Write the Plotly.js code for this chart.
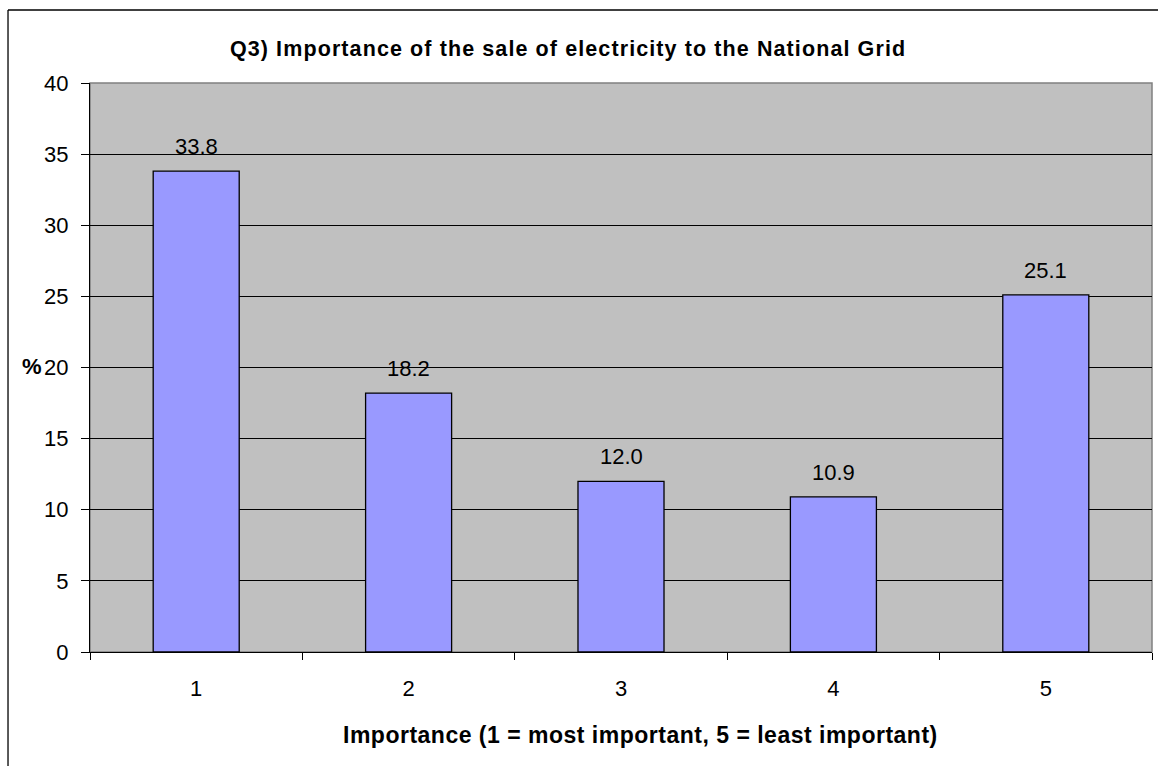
<!DOCTYPE html>
<html>
<head>
<meta charset="utf-8">
<script src="https://cdn.plot.ly/plotly-3.0.1.min.js"></script>
<style>
html,body{margin:0;padding:0;background:#fff;}
#chart{width:1158px;height:766px;}
.annotation[data-index="0"] text{letter-spacing:1.1px;}
.annotation[data-index="1"] text{letter-spacing:0.5px;}
</style>
</head>
<body>
<div id="chart"></div>
<script>
const categories = ["1", "2", "3", "4", "5"];
const percentValues = [33.8, 18.2, 12.0, 10.9, 25.1];
const yTickValues = [0, 5, 10, 15, 20, 25, 30, 35, 40];
const chartTitle = "Q3) Importance of the sale of electricity to the National Grid";
const xTitle = "Importance (1 = most important, 5 = least important)";
const yTitle = "%";

const FONT = "Arial, 'Liberation Sans', sans-serif";

const trace = {
  type: "bar",
  x: categories,
  y: percentValues,
  width: 0.405,
  marker: {color: "#9999FF", line: {color: "#000000", width: 1.3}},
  hoverinfo: "none"
};

const labelAnnotations = categories.map((c, i) => ({
  x: i, y: percentValues[i], xref: "x", yref: "y",
  text: percentValues[i].toFixed(1),
  showarrow: false, yanchor: "bottom", yshift: 10,
  font: {family: FONT, size: 22, color: "#000"}
}));

const layout = {
  width: 1158, height: 766,
  margin: {l: 90, r: 6, t: 83, b: 114},
  paper_bgcolor: "#ffffff",
  plot_bgcolor: "#C0C0C0",
  showlegend: false,
  xaxis: {
    type: "category",
    range: [-0.5, categories.length - 0.5],
    tickson: "boundaries",
    ticks: "outside", ticklen: 7, tickcolor: "#000", tickwidth: 1,
    showgrid: false, zeroline: false,
    showline: true, linecolor: "#000", linewidth: 1,
    tickfont: {family: FONT, size: 22, color: "#000"},
    ticklabelstandoff: 17,
    fixedrange: true
  },
  yaxis: {
    range: [0, 40],
    tickvals: yTickValues,
    ticktext: yTickValues.map(String),
    ticks: "outside", ticklen: 8, tickcolor: "#000", tickwidth: 1,
    showgrid: true, gridcolor: "#000", gridwidth: 1,
    zeroline: false,
    showline: true, linecolor: "#000", linewidth: 1,
    tickfont: {family: FONT, size: 22, color: "#000"},
    ticklabelstandoff: 8,
    fixedrange: true
  },
  shapes: [
    {type: "rect", xref: "paper", yref: "paper", x0: 0, x1: 1, y0: 0, y1: 1,
     line: {color: "#808080", width: 1.5}, layer: "below"},
    {type: "line", xref: "paper", yref: "paper", x0: -0.0772, x1: -0.0772, y0: -0.3, y1: 1.1283,
     line: {color: "#000", width: 1.3}},
    {type: "line", xref: "paper", yref: "paper", x0: -0.0772, x1: 1.2, y0: 1.1283, y1: 1.1283,
     line: {color: "#000", width: 1.3}}
  ],
  annotations: [
    {text: "<b>" + chartTitle + "</b>", xref: "paper", yref: "paper", x: 0.4497, y: 1.0598,
     xanchor: "center", yanchor: "middle", showarrow: false,
     font: {family: FONT, size: 21.5, color: "#000"}},
    {text: "<b>" + xTitle + "</b>", xref: "paper", yref: "paper", x: 0.518, y: -0.1459,
     xanchor: "center", yanchor: "middle", showarrow: false,
     font: {family: FONT, size: 23, color: "#000"}},
    {text: "<b>" + yTitle + "</b>", xref: "paper", yref: "paper", x: -0.0546, y: 0.5009,
     xanchor: "center", yanchor: "middle", showarrow: false,
     font: {family: FONT, size: 22, color: "#000"}}
  ].concat(labelAnnotations)
};

Plotly.newPlot("chart", [trace], layout, {displayModeBar: false, staticPlot: true});
</script>
</body>
</html>
